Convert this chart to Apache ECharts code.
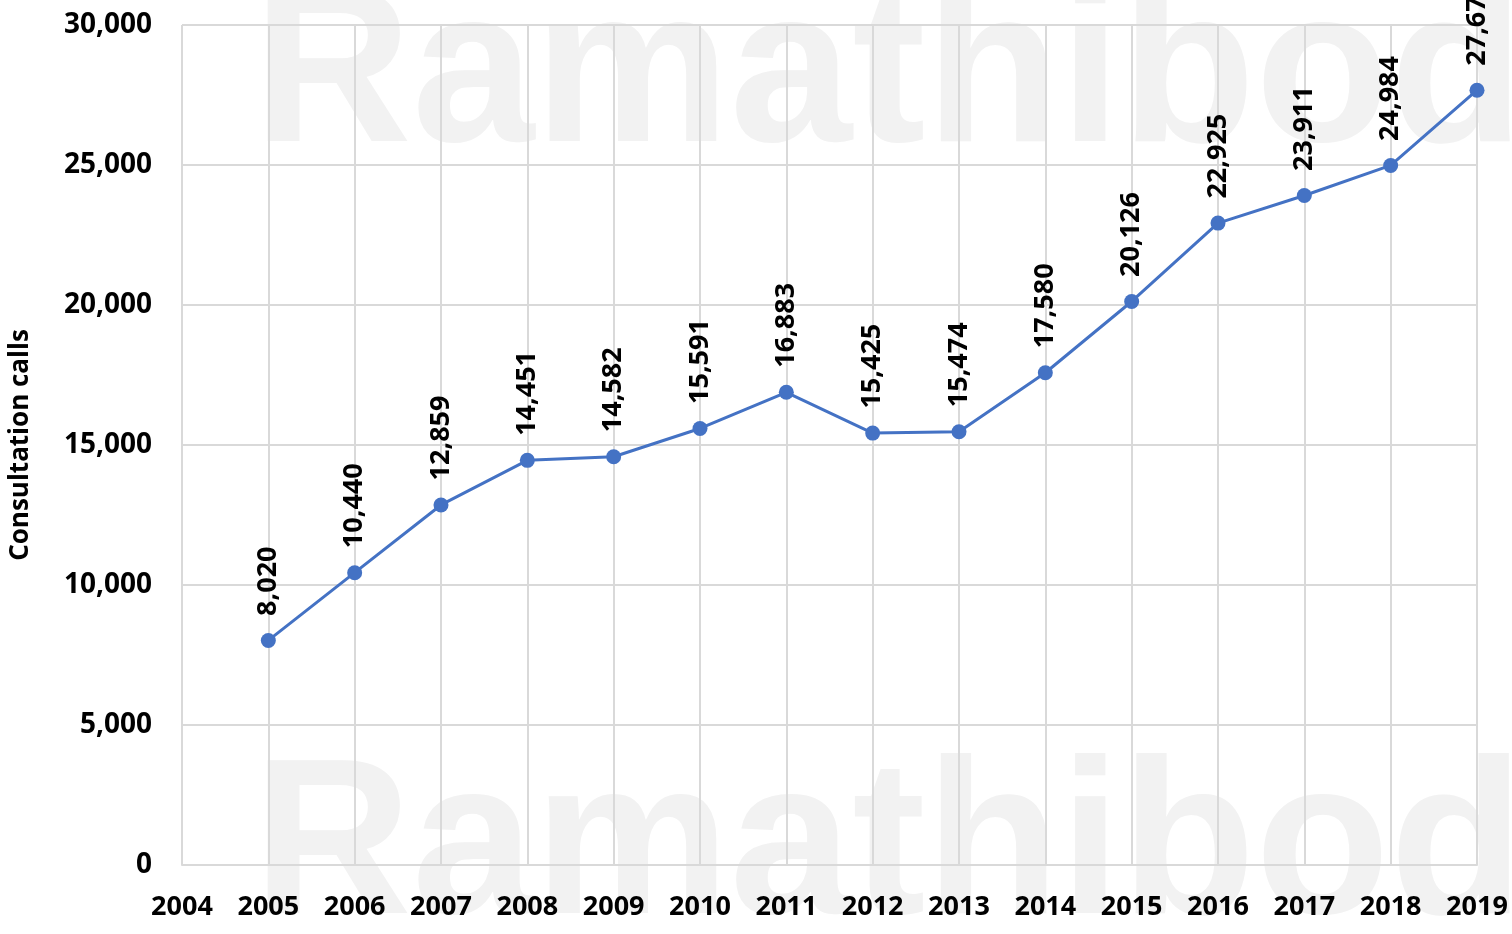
<!DOCTYPE html>
<html>
<head>
<meta charset="utf-8">
<script src="https://cdn.jsdelivr.net/npm/echarts@6/dist/echarts.min.js"></script>
<style>
html,body{margin:0;padding:0;background:#fff;}
#c{width:1512px;height:934px;}
</style>
</head>
<body>
<div id="c"></div>
<script>
const years = ['2004','2005','2006','2007','2008','2009','2010','2011','2012','2013','2014','2015','2016','2017','2018','2019'];
const calls = [null, 8020, 10440, 12859, 14451, 14582, 15591, 16883, 15425, 15474, 17580, 20126, 22925, 23911, 24984, 27670];
const yTicks = [0, 5000, 10000, 15000, 20000, 25000, 30000];
const yTitle = 'Consultation calls';
const watermark = 'Ramathibodi';

const FONT = '"Open Sans", "Liberation Sans", sans-serif';
const fmt = v => Number(v).toLocaleString('en-US');

const chart = echarts.init(document.getElementById('c'));
chart.setOption({
  animation: false,
  backgroundColor: '#ffffff',
  graphic: [
    { type: 'text', z: -100, silent: true, left: 253, top: -30,
      style: { text: watermark, fill: '#f2f2f2', font: 'bold 220px "Liberation Sans", Arial, sans-serif' } },
    { type: 'text', z: -100, silent: true, left: 253, top: 742,
      style: { text: watermark, fill: '#f2f2f2', font: 'bold 220px "Liberation Sans", Arial, sans-serif' } }
  ],
  grid: { left: 182, right: 35, top: 25, bottom: 69, containLabel: false, outerBoundsMode: 'none' },
  xAxis: {
    type: 'category',
    data: years,
    boundaryGap: false,
    axisLine: { show: true, lineStyle: { color: '#d9d9d9', width: 2 } },
    axisTick: { show: false },
    axisLabel: { color: '#000', fontFamily: FONT, fontWeight: 'bold', fontSize: 27, margin: 29, interval: 0 },
    splitLine: { show: true, interval: 0, lineStyle: { color: '#d9d9d9', width: 2 } }
  },
  yAxis: {
    type: 'value',
    min: yTicks[0],
    max: yTicks[yTicks.length - 1],
    interval: yTicks[1] - yTicks[0],
    name: yTitle,
    nameLocation: 'middle',
    nameGap: 148,
    nameRotate: 90,
    nameTextStyle: { color: '#000', fontFamily: FONT, fontWeight: 'bold', fontSize: 26 },
    axisLine: { show: false },
    axisTick: { show: false },
    axisLabel: { color: '#000', fontFamily: FONT, fontWeight: 'bold', fontSize: 28, margin: 30, formatter: v => fmt(v) },
    splitLine: { show: true, lineStyle: { color: '#d9d9d9', width: 2 } }
  },
  series: [{
    type: 'line',
    data: calls,
    connectNulls: false,
    symbol: 'circle',
    symbolSize: 15,
    lineStyle: { color: '#4472c4', width: 3 },
    itemStyle: { color: '#4472c4' },
    label: {
      show: true,
      position: 'top',
      distance: 17,
      rotate: 90,
      align: 'left',
      verticalAlign: 'middle',
      color: '#000',
      fontFamily: FONT,
      fontWeight: 'bold',
      fontSize: 27,
      formatter: p => fmt(p.value)
    }
  }]
});
</script>
</body>
</html>
